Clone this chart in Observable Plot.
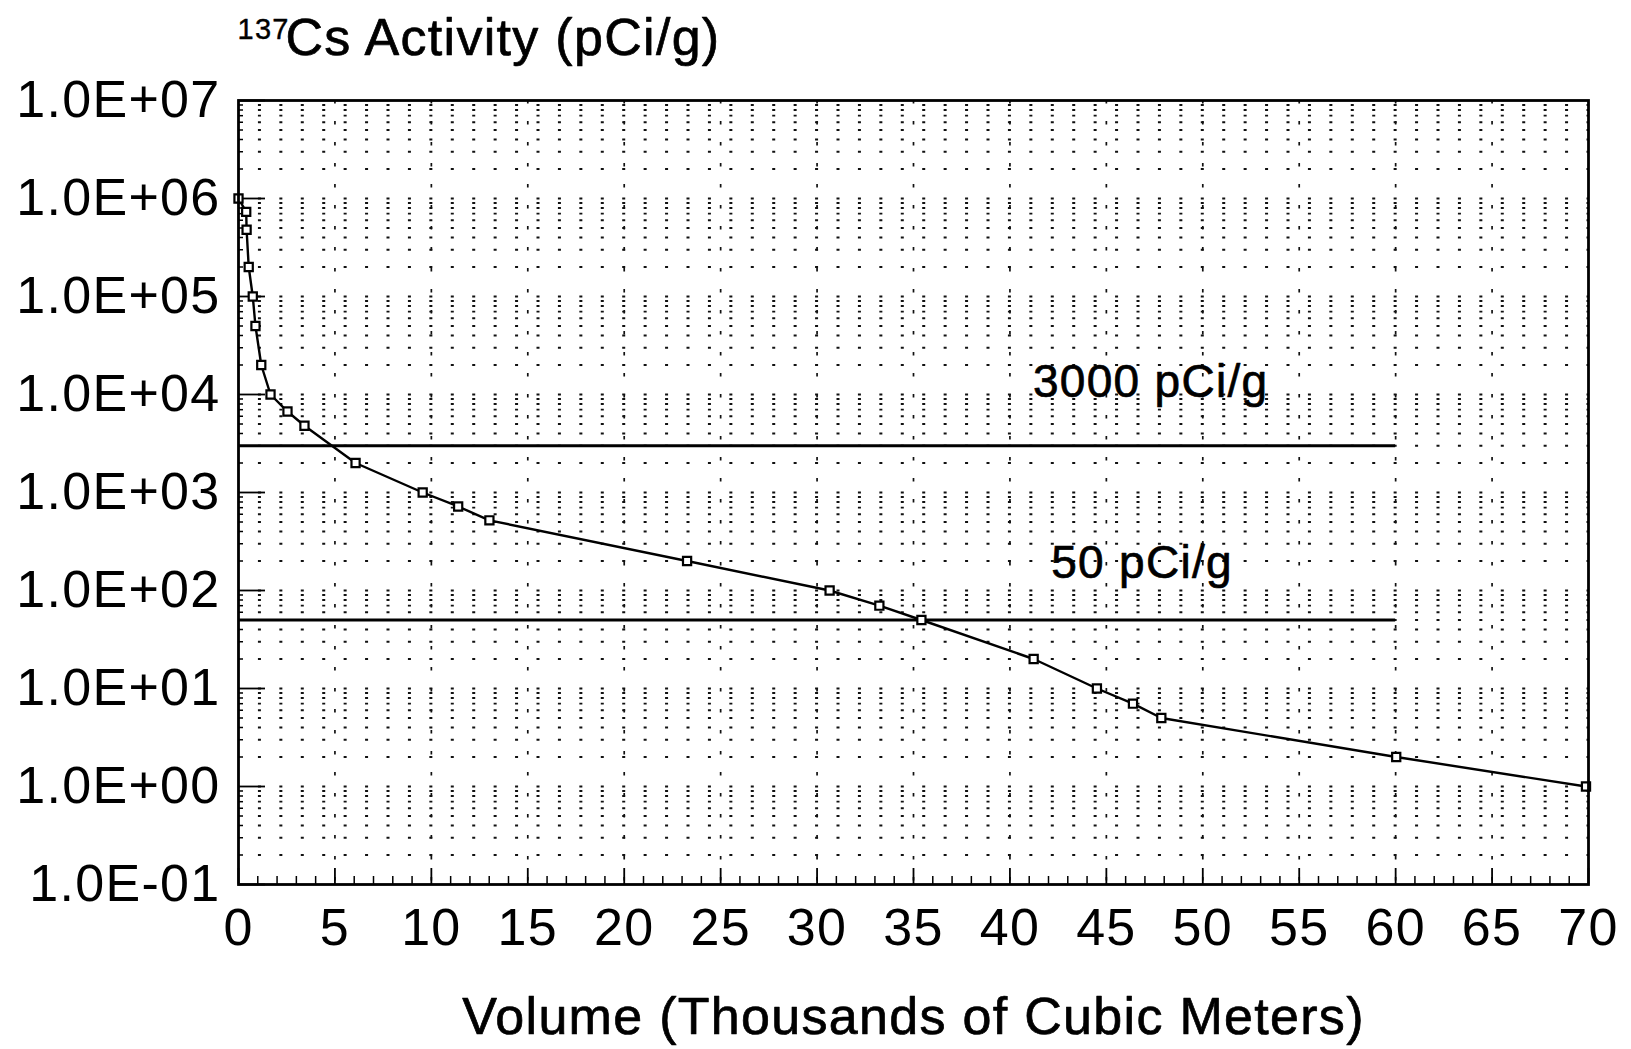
<!DOCTYPE html>
<html><head><meta charset="utf-8">
<script src="https://cdn.jsdelivr.net/npm/d3@7"></script>
<script src="https://cdn.jsdelivr.net/npm/@observablehq/plot@0.6"></script>
<style>body{margin:0;background:#fff}</style>
</head><body><div id="chart"></div>
<script>
// Data
const volume = [0, 0.40, 0.42, 0.53, 0.74, 0.88, 1.18, 1.66, 2.54, 3.42, 6.07, 9.55, 11.39, 13.01, 23.26, 30.65, 33.23, 35.41, 41.23, 44.51, 46.38, 47.85, 60.03, 69.87];
const activity = [1e6, 7.3e5, 4.8e5, 2e5, 1e5, 5e4, 2e4, 1e4, 6.7e3, 4.8e3, 2e3, 1e3, 7.2e2, 5.2e2, 2e2, 1e2, 7e1, 5e1, 20, 10, 7, 5, 2, 1];

const refValues = [3000, 50];
const refLabels = ["3000 pCi/g", "50 pCi/g"];
const refLabelX = [47.3, 46.85];
const refLabelY = [9500, 134];
const refEnd = 60;

const xTicks = [0, 5, 10, 15, 20, 25, 30, 35, 40, 45, 50, 55, 60, 65, 70];
const yTicks = [0.1, 1, 10, 100, 1e3, 1e4, 1e5, 1e6, 1e7];
const yTickLabels = ["1.0E-01", "1.0E+00", "1.0E+01", "1.0E+02", "1.0E+03", "1.0E+04", "1.0E+05", "1.0E+06", "1.0E+07"];

const titleSup = "137";
const titleMain = "Cs Activity (pCi/g)";
const xLabel = "Volume (Thousands of Cubic Meters)";

const data = volume.map((v, i) => ({volume: v, activity: activity[i]}));
const refs = refValues.map((v, i) => ({value: v, label: refLabels[i], lx: refLabelX[i], ly: refLabelY[i]}));

const W = 1631, H = 1049, mL = 238, mR = 43, mT = 100, mB = 165;
const plotW = W - mL - mR, plotH = H - mT - mB;
const pxPerUnit = plotW / 70;
const dotPeriod = pxPerUnit * 10 / 9;

const gridRows = yTicks.slice(0, -1).flatMap(d => [1,2,3,4,5,6,7,8,9].map(m => m * d)).filter(v => v > 0.1);
const minorYTicks = gridRows.filter(v => !yTicks.includes(v));
const majorXGrid = xTicks.filter(v => v > 0 && v < 70);
const minorXTicks = d3.range(1, 70).filter(v => v % 5 !== 0);

const font = "'Liberation Sans', Arial, Helvetica, sans-serif";
const textStroke = {stroke: "#000", strokeWidth: 0.7};

const chart = Plot.plot({
  width: W, height: H,
  marginLeft: mL, marginRight: mR, marginTop: mT, marginBottom: mB,
  style: {fontFamily: font, background: "white", color: "black", letterSpacing: "1.3px"},
  x: {domain: [0, 70]},
  y: {type: "log", domain: [0.1, 1e7]},
  marks: [
    // dotted horizontal grid rows
    Plot.ruleY(gridRows, {x1: 0, x2: 70, stroke: "#111", strokeWidth: 1.8,
      strokeDasharray: `3 ${dotPeriod - 3}`, strokeDashoffset: 1.5}),
    // dashed vertical major grid
    Plot.ruleX(majorXGrid, {stroke: "#111", strokeWidth: 1.7, strokeDasharray: "3.5 17.5"}),
    // inward ticks
    Plot.ruleY(yTicks, {stroke: "#000", strokeWidth: 1.8, insetRight: plotW - 27}),
    Plot.ruleY(minorYTicks, {stroke: "#000", strokeWidth: 1.5, insetRight: plotW - 5}),
    Plot.ruleX(xTicks, {stroke: "#000", strokeWidth: 1.8, insetTop: plotH - 16}),
    Plot.ruleX(minorXTicks, {stroke: "#000", strokeWidth: 1.5, insetTop: plotH - 8}),
    // reference lines
    Plot.ruleY(refs, {y: "value", x1: 0, x2: refEnd, stroke: "#000", strokeWidth: 2.8}),
    Plot.text(refs, {x: "lx", y: "ly", text: "label", fontSize: 46, textAnchor: "middle", lineAnchor: "bottom", fill: "#000", ...textStroke}),
    // data
    Plot.line(data, {x: "volume", y: "activity", stroke: "#000", strokeWidth: 2.4}),
    Plot.dot(data, {x: "volume", y: "activity", symbol: "square", r: 4.6, stroke: "#000", fill: "white", strokeWidth: 2.2}),
    Plot.frame({stroke: "#000", strokeWidth: 2.8}),
    // axes
    Plot.axisY({ticks: yTicks, tickFormat: d => yTickLabels[yTicks.indexOf(d)], tickSize: 0, tickPadding: 18, fontSize: 52, label: null, ...textStroke}),
    Plot.axisX({ticks: xTicks, tickFormat: d => String(d), tickSize: 0, tickPadding: 24, fontSize: 52, label: null, ...textStroke}),
    // titles
    Plot.text([titleSup], {frameAnchor: "top-left", dx: -1, dy: -62, text: d => d, fontSize: 29, textAnchor: "start", lineAnchor: "bottom", fill: "#000", letterSpacing: "0px", stroke: "#000", strokeWidth: 0.4}),
    Plot.text([titleMain], {frameAnchor: "top-left", dx: 47, dy: -46, text: d => d, fontSize: 52, textAnchor: "start", lineAnchor: "bottom", fill: "#000", ...textStroke}),
    Plot.text([xLabel], {frameAnchor: "bottom", dy: 149, text: d => d, fontSize: 52, textAnchor: "middle", lineAnchor: "bottom", fill: "#000", ...textStroke})
  ]
});
document.getElementById("chart").appendChild(chart);
</script>
</body></html>
